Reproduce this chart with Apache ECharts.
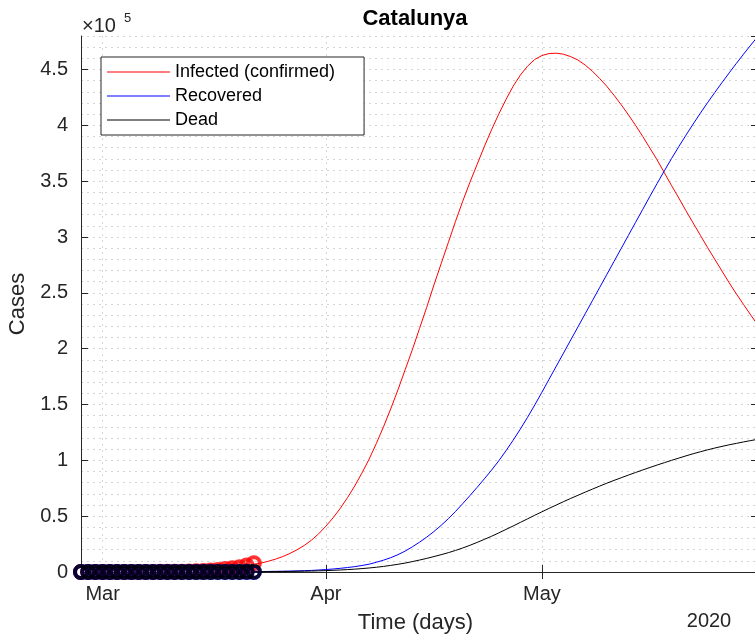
<!DOCTYPE html>
<html>
<head>
<meta charset="utf-8">
<title>Catalunya</title>
<script src="https://cdn.jsdelivr.net/npm/echarts@6.0.0/dist/echarts.min.js"></script>
<style>
  html, body { margin: 0; padding: 0; background: #fff; }
  #chart { width: 755px; height: 636px; }
</style>
</head>
<body>
<div id="chart"></div>
<script>
  // daily axis: Feb 27 .. May 31, 2020
  const firstDay = "2020-02-27";
  const dayCount = 95;
  const monthTicks = { "2020-03-01": "Mar", "2020-04-01": "Apr", "2020-05-01": "May" };
  const fitStartIndex = 24; // Mar 22, last observed day

  // observed cases, Feb 27 .. Mar 22
  const obsInfected = [3, 4, 6, 6, 15, 15, 24, 24, 49, 75, 101, 124, 156, 260, 316, 509, 715, 903, 1394, 1866, 2702, 3270, 4203, 5925, 7864];
  const obsRecovered = [0, 0, 0, 0, 0, 0, 0, 0, 0, 0, 0, 0, 0, 0, 0, 0, 0, 0, 0, 0, 0, 0, 0, 0, 0];
  const obsDead = [0, 0, 0, 0, 0, 0, 0, 0, 0, 0, 0, 0, 0, 0, 0, 2, 5, 12, 21, 41, 55, 75, 93, 134, 245];

  // model curves, Mar 22 .. May 31
  const fitInfected = [
    7000, 8000, 9600, 11500, 13800, 16600, 19900, 23800, 28500, 34200,
    41000, 48500, 57000, 66500, 77000, 88500, 101000, 115000, 130000, 146000,
    163000, 181000, 199000, 218000, 237000, 257000, 276000, 295000, 314000, 332000,
    349000, 365000, 381000, 396000, 410000, 423000, 435000, 445000, 453000, 459000,
    462500, 464300, 464600, 463700, 461500, 458500, 454000, 448500, 442000, 435000,
    427000, 418500, 409500, 400000, 390000, 379500, 369000, 357500, 346000, 335000,
    323500, 312500, 301500, 290500, 280000, 269500, 259000, 249000, 239500, 230000,
    221000
  ];
  const fitRecovered = [
    300, 400, 500, 600, 700, 800, 1000, 1200, 1400, 1800,
    2200, 2700, 3300, 4000, 4800, 5800, 7000, 8700, 10600, 12800,
    15500, 18700, 22500, 26700, 31200, 36200, 41700, 47700, 54200, 61200,
    68400, 75800, 83400, 91200, 99500, 108500, 118000, 128000, 138500, 149500,
    161000, 172700, 184400, 196100, 207800, 219500, 231200, 242900, 254600, 266300,
    278000, 289700, 301400, 313100, 324800, 336500, 348000, 359300, 370300, 380900,
    391200, 401200, 410900, 420300, 429400, 438300, 447000, 455500, 463800, 471900,
    479800
  ];
  const fitDead = [
    250, 280, 320, 370, 440, 520, 620, 740, 880, 1050,
    1250, 1500, 1800, 2150, 2550, 3050, 3600, 4250, 5000, 5900,
    6900, 8000, 9300, 10700, 12200, 13800, 15500, 17300, 19300, 21500,
    23900, 26500, 29200, 32000, 35000, 38100, 41200, 44400, 47600, 50800,
    53900, 57000, 60000, 63000, 65900, 68700, 71500, 74200, 76900, 79500,
    82000, 84400, 86800, 89100, 91400, 93600, 95800, 97900, 100000, 102000,
    104000, 105900, 107700, 109400, 111000, 112500, 113900, 115200, 116500, 117700,
    118900
  ];

  const font = "'Liberation Sans', Arial, Helvetica, sans-serif";
  const axisColor = "#262626";
  const gridColor = "#d4d4d4";

  const days = [];
  const start = new Date(firstDay + "T00:00:00Z").getTime();
  for (let i = 0; i < dayCount; i++) {
    days.push(new Date(start + i * 86400000).toISOString().slice(0, 10));
  }
  const isMonthStart = (_index, value) => value in monthTicks;

  function observed(values) {
    return values.map((v, i) => [days[i], v]);
  }
  function fitted(values) {
    return values.map((v, i) => [days[fitStartIndex + i], v]);
  }

  function dataSeries(name, color, values) {
    return {
      name: name,
      type: "scatter",
      data: observed(values),
      symbol: "circle",
      symbolSize: 12,
      itemStyle: { color: "rgba(0,0,0,0)", borderColor: color, borderWidth: 4 },
      silent: true,
      z: 3
    };
  }
  function fitSeries(name, color, values) {
    return {
      name: name,
      type: "line",
      data: fitted(values),
      showSymbol: false,
      lineStyle: { color: color, width: 1 },
      itemStyle: { color: color },
      silent: true,
      z: 4
    };
  }

  const chart = echarts.init(document.getElementById("chart"), null, { renderer: "canvas" });

  chart.setOption({
    animation: false,
    textStyle: { fontFamily: font },
    grid: { left: 81, top: 36, right: -3, bottom: 64, outerBoundsMode: "none", containLabel: false },
    legend: {
      data: ["Infected (confirmed)", "Recovered", "Dead"],
      orient: "vertical",
      left: 101,
      top: 57,
      icon: "rect",
      itemWidth: 63,
      itemHeight: 1,
      itemGap: 0,
      padding: [3, 29, 3, 6],
      backgroundColor: "#fff",
      borderColor: axisColor,
      borderWidth: 1,
      selectedMode: false,
      textStyle: { fontFamily: font, fontSize: 18, color: "#000", lineHeight: 24 }
    },
    graphic: [
      {
        type: "text", x: 415, y: 19,
        style: { text: "Catalunya", font: "bold 22px " + font, fill: "#000", align: "center", verticalAlign: "middle" }
      },
      {
        type: "text", x: 82, y: 26,
        style: { text: "\u00d710", font: "20px " + font, fill: axisColor, align: "left", verticalAlign: "middle" }
      },
      {
        type: "text", x: 124, y: 18,
        style: { text: "5", font: "13px " + font, fill: axisColor, align: "left", verticalAlign: "middle" }
      },
      {
        type: "text", x: 709, y: 621,
        style: { text: "2020", font: "20px " + font, fill: axisColor, align: "center", verticalAlign: "middle" }
      }
    ],
    xAxis: [
      {
        type: "category",
        data: days,
        boundaryGap: false,
        name: "Time (days)",
        nameLocation: "middle",
        nameGap: 40,
        nameTextStyle: { fontSize: 22, color: axisColor, fontFamily: font, padding: [0, 8, 0, 0] },
        axisLine: { lineStyle: { color: axisColor, width: 1 } },
        axisTick: { inside: true, length: 7, interval: isMonthStart, lineStyle: { color: axisColor } },
        axisLabel: {
          interval: isMonthStart,
          formatter: (v) => monthTicks[v] || "",
          fontSize: 20, color: axisColor, margin: 12, fontFamily: font
        },
        splitLine: { show: true, interval: isMonthStart, lineStyle: { color: gridColor, type: [2, 4] } }
      },
      {
        type: "category",
        data: days,
        boundaryGap: false,
        position: "top",
        axisLine: { lineStyle: { color: axisColor, width: 1 } },
        axisTick: { inside: true, length: 7, interval: isMonthStart, lineStyle: { color: axisColor } },
        axisLabel: { show: false },
        splitLine: { show: false }
      }
    ],
    yAxis: [
      {
        type: "value",
        min: 0,
        max: 480000,
        interval: 50000,
        name: "Cases",
        nameLocation: "middle",
        nameGap: 50,
        nameTextStyle: { fontSize: 22, color: axisColor, fontFamily: font },
        axisLine: { show: true, lineStyle: { color: axisColor, width: 1 } },
        axisTick: { show: true, inside: true, length: 7, lineStyle: { color: axisColor } },
        axisLabel: {
          formatter: (v) => String(v / 100000),
          showMaxLabel: false,
          fontSize: 20, color: axisColor, margin: 13, fontFamily: font
        },
        splitLine: { show: false }
      },
      {
        type: "value",
        min: 0,
        max: 480000,
        interval: 50000,
        position: "right",
        axisLine: { show: true, lineStyle: { color: axisColor, width: 1 } },
        axisTick: { show: true, inside: true, length: 7, lineStyle: { color: axisColor } },
        axisLabel: { show: false },
        splitLine: { show: false }
      },
      {
        // minor grid every 0.1 x 10^5
        type: "value",
        min: 0,
        max: 480000,
        interval: 10000,
        position: "left",
        axisLine: { show: false },
        axisTick: { show: false },
        axisLabel: { show: false },
        splitLine: { show: true, lineStyle: { color: gridColor, type: [2, 4] } }
      }
    ],
    series: [
      dataSeries("Infected data", "#ff0000", obsInfected),
      dataSeries("Recovered data", "#0000ff", obsRecovered),
      dataSeries("Dead data", "#000000", obsDead),
      fitSeries("Infected (confirmed)", "#ff0000", fitInfected),
      fitSeries("Recovered", "#0000ff", fitRecovered),
      fitSeries("Dead", "#000000", fitDead)
    ]
  });

  window.addEventListener("resize", () => chart.resize());
</script>
</body>
</html>
